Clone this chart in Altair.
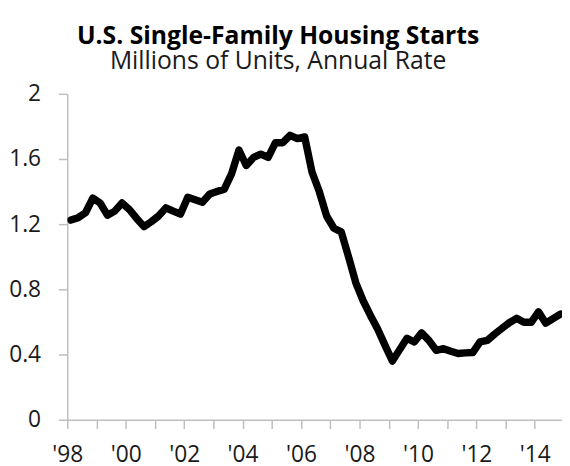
import altair as alt
import pandas as pd

# Quarterly U.S. single-family housing starts, millions of units (SAAR)
years = list(range(1998, 2015))
v1998 = [1.225, 1.24, 1.27, 1.36]
v1999 = [1.33, 1.255, 1.28, 1.33]
v2000 = [1.29, 1.235, 1.185, 1.215]
v2001 = [1.25, 1.30, 1.28, 1.262]
v2002 = [1.365, 1.35, 1.335, 1.385]
v2003 = [1.40, 1.415, 1.51, 1.655]
v2004 = [1.56, 1.61, 1.63, 1.61]
v2005 = [1.70, 1.70, 1.745, 1.725]
v2006 = [1.735, 1.52, 1.40, 1.25]
v2007 = [1.175, 1.153, 1.00, 0.84]
v2008 = [0.73, 0.64, 0.555, 0.456]
v2009 = [0.36, 0.43, 0.50, 0.477]
v2010 = [0.533, 0.487, 0.426, 0.436]
v2011 = [0.42, 0.406, 0.41, 0.412]
v2012 = [0.477, 0.487, 0.525, 0.56]
v2013 = [0.595, 0.622, 0.598, 0.598]
v2014 = [0.662, 0.592, 0.62, 0.648]
series = [v1998, v1999, v2000, v2001, v2002, v2003, v2004, v2005, v2006,
          v2007, v2008, v2009, v2010, v2011, v2012, v2013, v2014]

x_tick_labels = {1998: "'98", 2000: "'00", 2002: "'02", 2004: "'04", 2006: "'06",
                 2008: "'08", 2010: "'10", 2012: "'12", 2014: "'14"}
y_ticks = [0, 0.4, 0.8, 1.2, 1.6, 2.0]

rows = []
for yr, vals in zip(years, series):
    for q, v in enumerate(vals):
        rows.append({"t": yr + (q + 0.5) / 4, "starts": v})
df = pd.DataFrame(rows)

label_expr = " : ".join(
    [f"datum.value == {k} ? \"{v}\"" for k, v in x_tick_labels.items()]) + " : ''"

font = "Open Sans"
gray = "#bfbfbf"
txt = "#1a1a1a"

chart = alt.Chart(df).mark_line(
    color="black", strokeWidth=7.5, strokeCap="round", strokeJoin="round", clip=True
).encode(
    x=alt.X("t:Q",
            scale=alt.Scale(domain=[1998, 2014.93], nice=False, zero=False),
            axis=alt.Axis(values=years, labelExpr=label_expr, title=None, grid=False,
                          domainColor=gray, tickColor=gray, tickSize=9, domainWidth=1.5,
                          tickWidth=1.5, labelFontSize=23, labelFont=font,
                          labelColor=txt, labelPadding=15, labelFlush=False,
                          labelOverlap=False)),
    y=alt.Y("starts:Q",
            scale=alt.Scale(domain=[0, 2], nice=False),
            axis=alt.Axis(values=y_ticks, format=".1~f", title=None, grid=False,
                          domainColor=gray, tickColor=gray, tickSize=9, domainWidth=1.5,
                          tickWidth=1.5, labelFontSize=23, labelFont=font,
                          labelColor=txt, labelPadding=18)),
).properties(
    width=501,
    height=330,
    autosize=alt.AutoSizeParams(type="none"),
    padding={"left": 60, "top": 84, "right": 0, "bottom": 44},
    title=alt.TitleParams(
        text="U.S. Single-Family Housing Starts",
        subtitle="Millions of Units, Annual Rate",
        font=font, fontSize=25, fontWeight="bold", color="black",
        subtitleFont=font, subtitleFontSize=25, subtitleColor=txt,
        anchor="middle", frame="group", dx=-37, offset=9, subtitlePadding=0,
        lineHeight=21,
    ),
).configure_view(stroke=None)

chart.save("out.html", embed_options={"renderer": "svg", "actions": False})
